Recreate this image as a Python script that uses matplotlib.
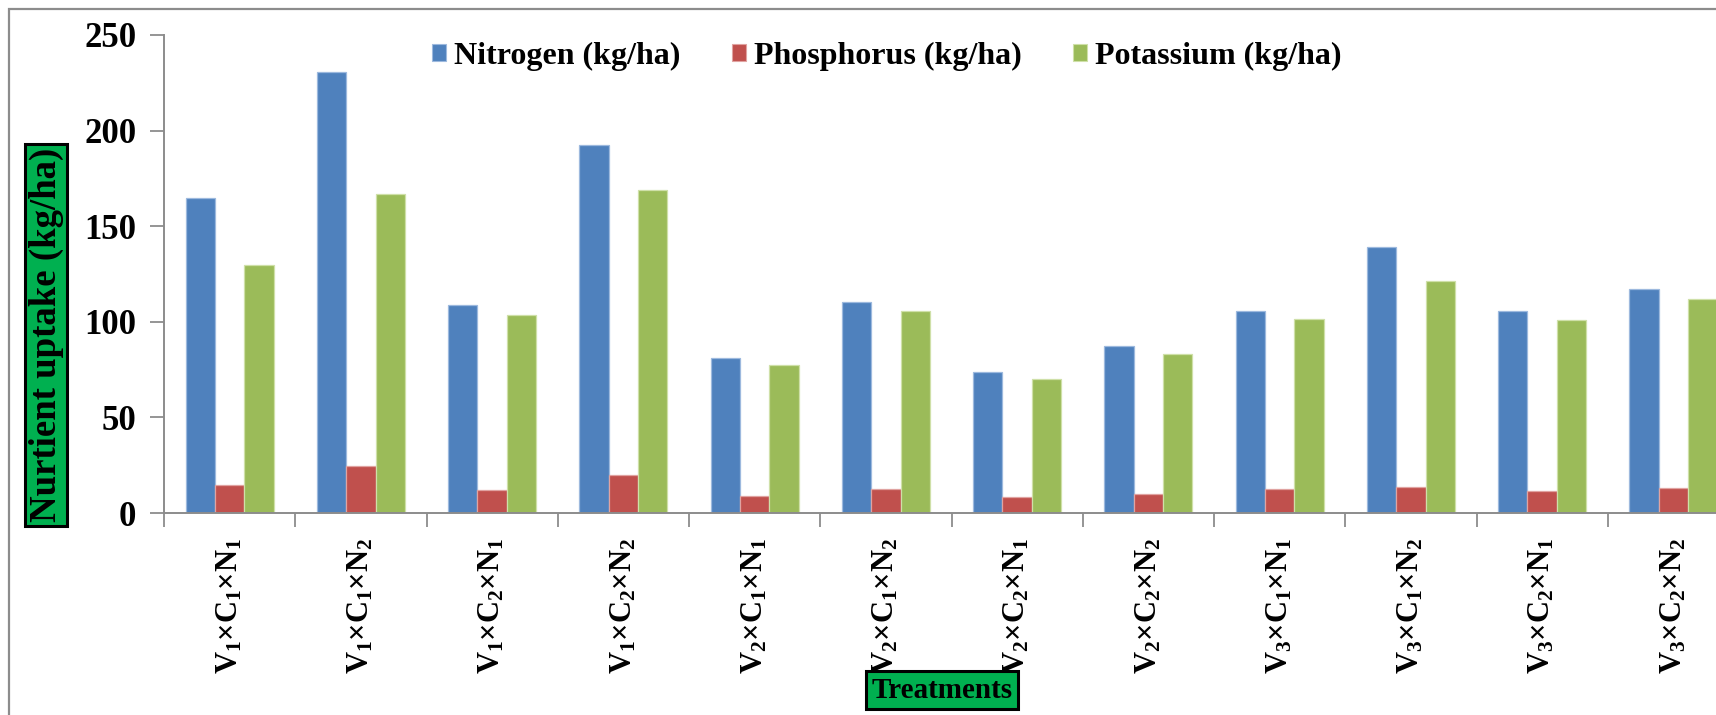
import matplotlib
matplotlib.use("Agg")
import matplotlib.pyplot as plt
from matplotlib.patches import Patch, Rectangle
import numpy as np

# ---- data ----
treatments = [
    r"V$_1$×C$_1$×N$_1$", r"V$_1$×C$_1$×N$_2$", r"V$_1$×C$_2$×N$_1$", r"V$_1$×C$_2$×N$_2$",
    r"V$_2$×C$_1$×N$_1$", r"V$_2$×C$_1$×N$_2$", r"V$_2$×C$_2$×N$_1$", r"V$_2$×C$_2$×N$_2$",
    r"V$_3$×C$_1$×N$_1$", r"V$_3$×C$_1$×N$_2$", r"V$_3$×C$_2$×N$_1$", r"V$_3$×C$_2$×N$_2$",
]
nitrogen = [164.5, 230.5, 109.0, 192.3, 81.3, 110.6, 73.7, 87.1, 105.9, 139.1, 105.4, 117.3]
phosphorus = [14.8, 24.5, 12.2, 19.8, 9.1, 12.4, 8.5, 9.9, 12.4, 13.8, 11.4, 12.9]
potassium = [129.6, 166.7, 103.7, 169.1, 77.5, 105.9, 70.0, 83.4, 101.4, 121.1, 100.9, 111.9]
series_names = ["Nitrogen (kg/ha)", "Phosphorus (kg/ha)", "Potassium (kg/ha)"]
y_ticks = [0, 50, 100, 150, 200, 250]

colors = ["#4F81BD", "#C0504D", "#9BBB59"]
edges = ["#9DB9DE", "#E0A3A1", "#CFE0A8"]

plt.rcParams["mathtext.default"] = "regular"
FONT = "Liberation Serif"

W, H = 1716, 715
fig = plt.figure(figsize=(W / 100, H / 100), dpi=100)
fig.patch.set_facecolor("white")

# outer chart border (clipped at right / bottom)
fig.patches.append(Rectangle((9 / W, -0.2), 1.5, (H - 9) / H + 0.2,
                             transform=fig.transFigure, fill=False,
                             edgecolor="#8C8C8C", linewidth=1.6, zorder=0))

x0, x1 = 164, 164 + 12 * 131.25
y0, y1 = 513, 35
ax = fig.add_axes([x0 / W, (H - y0) / H, (x1 - x0) / W, (y0 - y1) / H])
ax.set_facecolor("none")

x = np.arange(len(treatments))
bw = 0.224
for k, (vals, c, e) in enumerate(zip([nitrogen, phosphorus, potassium], colors, edges)):
    ax.bar(x + (k - 1) * bw, vals, width=bw, color=c, edgecolor=e, linewidth=0.9, zorder=2)

ax.set_xlim(-0.5, len(treatments) - 0.5)
ax.set_ylim(0, 250)
ax.set_yticks(y_ticks)
ax.set_yticklabels([str(t) for t in y_ticks], fontfamily=FONT, fontweight="bold", fontsize=25)
ax.set_xticks(x)
ax.set_xticklabels(treatments, rotation=90, fontfamily=FONT, fontweight="bold",
                   fontsize=22, va="top", ha="center")
ax.set_xticks(np.arange(-0.5, len(treatments), 1.0), minor=True)
ax.tick_params(axis="x", which="major", length=0, pad=18)
ax.tick_params(axis="x", which="minor", length=10, width=1.3, color="#8C8C8C", direction="out")
ax.tick_params(axis="y", which="major", length=10, width=1.3, color="#8C8C8C",
               direction="out", pad=10)
for s in ["top", "right"]:
    ax.spines[s].set_visible(False)
for s in ["left", "bottom"]:
    ax.spines[s].set_color("#8C8C8C")
    ax.spines[s].set_linewidth(1.4)

# legend
handles = [Patch(facecolor=c, edgecolor=e, linewidth=0.8) for c, e in zip(colors, edges)]
fig.legend(handles, series_names, loc="center", bbox_to_anchor=(887 / W, (H - 56) / H),
           ncol=3, frameon=False, prop={"family": FONT, "weight": "bold", "size": 23},
           handlelength=0.45, handleheight=0.45, handletextpad=0.25, columnspacing=1.6)

# axis titles in green boxes
fig.text(46 / W, (H - 335) / H, "Nurtient uptake (kg/ha)", rotation=90, ha="center", va="center",
         fontfamily=FONT, fontweight="bold", fontsize=26.5,
         bbox=dict(boxstyle="square,pad=0.1", facecolor="#00B050", edgecolor="black", linewidth=2.2))
fig.text(941.7 / W, (H - 690) / H, "Treatments", ha="center", va="center",
         fontfamily=FONT, fontweight="bold", fontsize=21, zorder=10,
         bbox=dict(boxstyle="square,pad=0.18", facecolor="#00B050", edgecolor="black", linewidth=2.2))

fig.savefig("out.png", dpi=100, facecolor="white")
